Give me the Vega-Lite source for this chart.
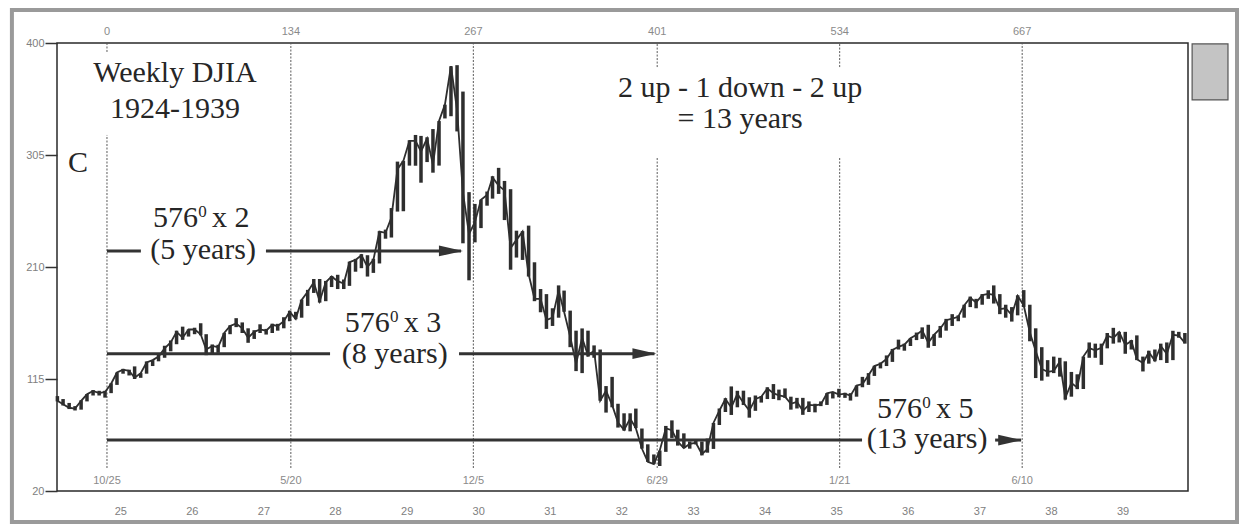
{
  "$schema": "https://vega.github.io/schema/vega-lite/v6.json",
  "width": 1131,
  "height": 448,
  "autosize": "none",
  "padding": {"left": 57, "top": 43, "right": 55, "bottom": 37},
  "background": "white",
  "config": {"view": {"stroke": "#2a2a2a", "strokeWidth": 1.5}, "font": "Liberation Sans"},
  "datasets": {
    "djia": [
      {"d":"1924-02-15","h":100.5,"l":96,"v":96.6},
      {"d":"1924-03-15","h":98,"l":92.5,"v":93.5},
      {"d":"1924-04-15","h":94.7,"l":89.5,"v":90.6},
      {"d":"1924-05-15","h":92,"l":88.3,"v":89.9},
      {"d":"1924-06-15","h":97,"l":89,"v":96.4},
      {"d":"1924-07-15","h":102.3,"l":96,"v":102},
      {"d":"1924-08-15","h":105.6,"l":101,"v":104.9},
      {"d":"1924-09-15","h":105,"l":101,"v":103},
      {"d":"1924-10-15","h":105,"l":99.2,"v":104},
      {"d":"1924-11-15","h":111.4,"l":103,"v":111},
      {"d":"1924-12-15","h":120.5,"l":110,"v":120.5},
      {"d":"1925-01-15","h":123.6,"l":119.5,"v":123},
      {"d":"1925-02-15","h":122.9,"l":118,"v":122},
      {"d":"1925-03-15","h":125.7,"l":115,"v":116},
      {"d":"1925-04-15","h":120,"l":116,"v":120},
      {"d":"1925-05-15","h":129.9,"l":119.5,"v":129},
      {"d":"1925-06-15","h":131,"l":126,"v":131},
      {"d":"1925-07-15","h":136.5,"l":130,"v":134},
      {"d":"1925-08-15","h":143.2,"l":133,"v":141},
      {"d":"1925-09-15","h":147.7,"l":138.5,"v":146},
      {"d":"1925-10-15","h":156,"l":144.5,"v":155},
      {"d":"1925-11-15","h":159.4,"l":148.2,"v":150},
      {"d":"1925-12-15","h":157,"l":151,"v":157},
      {"d":"1926-01-15","h":158.5,"l":153,"v":157},
      {"d":"1926-02-15","h":162.3,"l":152,"v":153},
      {"d":"1926-03-15","h":153,"l":135.2,"v":140},
      {"d":"1926-04-15","h":144.3,"l":136.2,"v":143},
      {"d":"1926-05-15","h":144,"l":137.2,"v":142},
      {"d":"1926-06-15","h":154.1,"l":142,"v":154},
      {"d":"1926-07-15","h":160.6,"l":153,"v":160},
      {"d":"1926-08-15","h":166.6,"l":159,"v":162},
      {"d":"1926-09-15","h":163,"l":154,"v":158},
      {"d":"1926-10-15","h":158,"l":145.7,"v":150},
      {"d":"1926-11-15","h":156.4,"l":149,"v":155},
      {"d":"1926-12-15","h":161.4,"l":154,"v":157},
      {"d":"1927-01-15","h":157.5,"l":152.7,"v":156},
      {"d":"1927-02-15","h":161.9,"l":154,"v":161},
      {"d":"1927-03-15","h":161.8,"l":156,"v":160},
      {"d":"1927-04-15","h":167.4,"l":158,"v":164},
      {"d":"1927-05-15","h":172.9,"l":164,"v":172},
      {"d":"1927-06-15","h":172,"l":165.7,"v":166},
      {"d":"1927-07-15","h":182.3,"l":167,"v":182},
      {"d":"1927-08-15","h":190.6,"l":177,"v":189},
      {"d":"1927-09-15","h":199.8,"l":188,"v":197},
      {"d":"1927-10-15","h":199.8,"l":179.8,"v":181},
      {"d":"1927-11-15","h":198.2,"l":181,"v":197},
      {"d":"1927-12-15","h":202.4,"l":193,"v":202},
      {"d":"1928-01-15","h":203.4,"l":191.3,"v":198},
      {"d":"1928-02-15","h":199.4,"l":191.3,"v":196},
      {"d":"1928-03-15","h":214.5,"l":194,"v":214},
      {"d":"1928-04-15","h":216.9,"l":206,"v":216},
      {"d":"1928-05-15","h":220.9,"l":209,"v":220},
      {"d":"1928-06-15","h":220,"l":201.9,"v":210},
      {"d":"1928-07-15","h":217,"l":205,"v":216},
      {"d":"1928-08-15","h":240.4,"l":213,"v":240},
      {"d":"1928-09-15","h":241.7,"l":234,"v":239},
      {"d":"1928-10-15","h":260,"l":235,"v":252},
      {"d":"1928-11-15","h":299.4,"l":257,"v":293},
      {"d":"1928-12-15","h":300,"l":257.3,"v":300},
      {"d":"1929-01-15","h":317.5,"l":296,"v":317},
      {"d":"1929-02-15","h":322,"l":295.9,"v":317},
      {"d":"1929-03-15","h":321.2,"l":281.5,"v":308},
      {"d":"1929-04-15","h":320,"l":299,"v":319},
      {"d":"1929-05-15","h":327,"l":290,"v":297},
      {"d":"1929-06-15","h":333.8,"l":296,"v":333.8},
      {"d":"1929-07-15","h":347.7,"l":336,"v":347.7},
      {"d":"1929-08-15","h":380.3,"l":337.9,"v":380.3},
      {"d":"1929-09-15","h":381.2,"l":325,"v":343},
      {"d":"1929-10-15","h":358.8,"l":230.1,"v":273},
      {"d":"1929-11-15","h":273.5,"l":198.7,"v":238},
      {"d":"1929-12-15","h":263.5,"l":230.9,"v":248},
      {"d":"1930-01-15","h":267.1,"l":243,"v":267},
      {"d":"1930-02-15","h":274,"l":262,"v":271},
      {"d":"1930-03-15","h":287,"l":268,"v":286},
      {"d":"1930-04-15","h":294.1,"l":272,"v":279},
      {"d":"1930-05-15","h":283,"l":249.8,"v":275},
      {"d":"1930-06-15","h":276,"l":207.7,"v":226},
      {"d":"1930-07-15","h":240.8,"l":218,"v":233},
      {"d":"1930-08-15","h":240.4,"l":216,"v":240},
      {"d":"1930-09-15","h":245.1,"l":201.9,"v":204},
      {"d":"1930-10-15","h":214,"l":181,"v":183},
      {"d":"1930-11-15","h":191.3,"l":171.6,"v":183},
      {"d":"1930-12-15","h":187,"l":157.5,"v":165},
      {"d":"1931-01-15","h":175,"l":160,"v":167},
      {"d":"1931-02-15","h":194.4,"l":167,"v":190},
      {"d":"1931-03-15","h":190,"l":172,"v":172},
      {"d":"1931-04-15","h":173,"l":142,"v":151},
      {"d":"1931-05-15","h":156,"l":121.7,"v":128},
      {"d":"1931-06-15","h":157.9,"l":120,"v":150},
      {"d":"1931-07-15","h":156,"l":134,"v":135},
      {"d":"1931-08-15","h":143.5,"l":133,"v":139},
      {"d":"1931-09-15","h":140,"l":96.6,"v":96.6},
      {"d":"1931-10-15","h":109,"l":86.5,"v":105},
      {"d":"1931-11-15","h":116.8,"l":91,"v":93},
      {"d":"1931-12-15","h":94,"l":73.8,"v":78},
      {"d":"1932-01-15","h":85.9,"l":71.2,"v":71.9},
      {"d":"1932-02-15","h":85.9,"l":70.6,"v":81.4},
      {"d":"1932-03-15","h":89.9,"l":73.3,"v":73.3},
      {"d":"1932-04-15","h":73,"l":55.9,"v":56},
      {"d":"1932-05-15","h":59.6,"l":44.7,"v":44.7},
      {"d":"1932-06-15","h":51,"l":42.8,"v":42.8},
      {"d":"1932-07-15","h":54.3,"l":41.2,"v":54.3},
      {"d":"1932-08-15","h":75.2,"l":53.2,"v":73.2},
      {"d":"1932-09-15","h":79.9,"l":65,"v":71.6},
      {"d":"1932-10-15","h":72,"l":58.5,"v":61.9},
      {"d":"1932-11-15","h":68.9,"l":56.4,"v":56.4},
      {"d":"1932-12-15","h":62,"l":55.9,"v":59.9},
      {"d":"1933-01-15","h":64,"l":59.5,"v":60.9},
      {"d":"1933-02-15","h":62,"l":50.2,"v":51.4},
      {"d":"1933-03-15","h":64.5,"l":52.5,"v":55.4},
      {"d":"1933-04-15","h":77.7,"l":55.7,"v":77.7},
      {"d":"1933-05-15","h":90,"l":76,"v":88.1},
      {"d":"1933-06-15","h":98.7,"l":87,"v":98.1},
      {"d":"1933-07-15","h":108.7,"l":84.5,"v":90.8},
      {"d":"1933-08-15","h":105,"l":91,"v":102.4},
      {"d":"1933-09-15","h":105.1,"l":92.9,"v":94.8},
      {"d":"1933-10-15","h":99.5,"l":82.2,"v":88.2},
      {"d":"1933-11-15","h":101,"l":88,"v":98.1},
      {"d":"1933-12-15","h":100.6,"l":95,"v":99.9},
      {"d":"1934-01-15","h":108,"l":98,"v":107},
      {"d":"1934-02-15","h":110.7,"l":98,"v":103},
      {"d":"1934-03-15","h":106,"l":97,"v":101},
      {"d":"1934-04-15","h":107,"l":99,"v":100},
      {"d":"1934-05-15","h":100,"l":89,"v":94},
      {"d":"1934-06-15","h":99,"l":90,"v":95.6},
      {"d":"1934-07-15","h":99,"l":84.6,"v":88},
      {"d":"1934-08-15","h":96,"l":87,"v":93},
      {"d":"1934-09-15","h":94,"l":86.7,"v":92.6},
      {"d":"1934-10-15","h":96,"l":92,"v":93.4},
      {"d":"1934-11-15","h":103,"l":93,"v":102.9},
      {"d":"1934-12-15","h":104,"l":98.5,"v":104},
      {"d":"1935-01-15","h":106.7,"l":99.5,"v":101.7},
      {"d":"1935-02-15","h":103.3,"l":99,"v":102.6},
      {"d":"1935-03-15","h":103,"l":96.7,"v":100.8},
      {"d":"1935-04-15","h":109.5,"l":100,"v":109.5},
      {"d":"1935-05-15","h":116.8,"l":108,"v":110.6},
      {"d":"1935-06-15","h":120,"l":110,"v":118.2},
      {"d":"1935-07-15","h":126.2,"l":117.6,"v":126},
      {"d":"1935-08-15","h":129,"l":124,"v":127.9},
      {"d":"1935-09-15","h":135,"l":126,"v":131.9},
      {"d":"1935-10-15","h":140.5,"l":129.5,"v":139.7},
      {"d":"1935-11-15","h":148.4,"l":140,"v":142.3},
      {"d":"1935-12-15","h":145,"l":139,"v":144.1},
      {"d":"1936-01-15","h":149.5,"l":143,"v":149.5},
      {"d":"1936-02-15","h":154.4,"l":148,"v":152.5},
      {"d":"1936-03-15","h":158.8,"l":149,"v":156.3},
      {"d":"1936-04-15","h":161,"l":141.5,"v":145.7},
      {"d":"1936-05-15","h":153,"l":143,"v":152.6},
      {"d":"1936-06-15","h":160,"l":150,"v":157.7},
      {"d":"1936-07-15","h":166,"l":156,"v":164.9},
      {"d":"1936-08-15","h":170,"l":160,"v":166.3},
      {"d":"1936-09-15","h":169,"l":164,"v":167.8},
      {"d":"1936-10-15","h":178,"l":167,"v":177.4},
      {"d":"1936-11-15","h":184.9,"l":176,"v":183.9},
      {"d":"1936-12-15","h":183,"l":175,"v":179.9},
      {"d":"1937-01-15","h":187,"l":178,"v":186.2},
      {"d":"1937-02-15","h":190.3,"l":183,"v":187.2},
      {"d":"1937-03-15","h":194.4,"l":179,"v":186.4},
      {"d":"1937-04-15","h":187,"l":170,"v":174.3},
      {"d":"1937-05-15","h":178,"l":167,"v":175},
      {"d":"1937-06-15","h":176,"l":163.7,"v":169.3},
      {"d":"1937-07-15","h":186,"l":169,"v":185.5},
      {"d":"1937-08-15","h":190.4,"l":176,"v":177.4},
      {"d":"1937-09-15","h":178,"l":147,"v":154.6},
      {"d":"1937-10-15","h":158,"l":115.8,"v":138.8},
      {"d":"1937-11-15","h":142,"l":113.6,"v":123.5},
      {"d":"1937-12-15","h":131,"l":117,"v":121},
      {"d":"1938-01-15","h":134,"l":120,"v":121.9},
      {"d":"1938-02-15","h":133,"l":117,"v":129.6},
      {"d":"1938-03-15","h":130,"l":97.5,"v":99},
      {"d":"1938-04-15","h":121,"l":100,"v":111.7},
      {"d":"1938-05-15","h":119,"l":106.4,"v":107.7},
      {"d":"1938-06-15","h":134,"l":106.5,"v":134},
      {"d":"1938-07-15","h":146,"l":133,"v":141.2},
      {"d":"1938-08-15","h":145,"l":133,"v":139.3},
      {"d":"1938-09-15","h":145,"l":127,"v":141.5},
      {"d":"1938-10-15","h":154,"l":141,"v":151.7},
      {"d":"1938-11-15","h":158.4,"l":145,"v":149.8},
      {"d":"1938-12-15","h":155,"l":146,"v":154.8},
      {"d":"1939-01-15","h":155,"l":136.4,"v":143.8},
      {"d":"1939-02-15","h":148,"l":140,"v":147.2},
      {"d":"1939-03-15","h":152,"l":131,"v":131.8},
      {"d":"1939-04-15","h":134,"l":121.4,"v":128.5},
      {"d":"1939-05-15","h":139,"l":128,"v":137.7},
      {"d":"1939-06-15","h":140,"l":130,"v":130.6},
      {"d":"1939-07-15","h":145,"l":131,"v":143},
      {"d":"1939-08-15","h":146,"l":128.6,"v":136.4},
      {"d":"1939-09-15","h":155.9,"l":131,"v":152.5},
      {"d":"1939-10-15","h":155,"l":150,"v":151.9},
      {"d":"1939-11-15","h":154,"l":145,"v":145.7}
    ],
    "vsegs": [
      {"d":"1924-10-25","v":39.5,"b":322},
      {"d":"1924-10-25","v":392.4,"b":400},
      {"d":"1927-05-21","v":39.5,"b":400},
      {"d":"1929-12-07","v":39.5,"b":400},
      {"d":"1932-07-02","v":39.5,"b":302.5},
      {"d":"1932-07-02","v":379.6,"b":400},
      {"d":"1935-01-19","v":39.5,"b":302.5},
      {"d":"1935-01-19","v":379.6,"b":400},
      {"d":"1937-08-07","v":39.5,"b":400}
    ],
    "marks": [
      {"d":"1924-10-25","v":409.3,"t":"0"},
      {"d":"1927-05-21","v":409.3,"t":"134"},
      {"d":"1929-12-07","v":409.3,"t":"267"},
      {"d":"1932-07-02","v":409.3,"t":"401"},
      {"d":"1935-01-19","v":409.3,"t":"534"},
      {"d":"1937-08-07","v":409.3,"t":"667"},
      {"d":"1924-10-25","v":28.5,"t":"10/25"},
      {"d":"1927-05-21","v":28.5,"t":"5/20"},
      {"d":"1929-12-07","v":28.5,"t":"12/5"},
      {"d":"1932-07-02","v":28.5,"t":"6/29"},
      {"d":"1935-01-19","v":28.5,"t":"1/21"},
      {"d":"1937-08-07","v":28.5,"t":"6/10"}
    ],
    "arrows": [
      {"d":"1924-10-25","d2":"1925-04-16","v":223.6},
      {"d":"1927-01-14","d2":"1929-10-05","v":223.6},
      {"d":"1924-10-25","d2":"1927-12-07","v":136.5},
      {"d":"1929-09-25","d2":"1932-06-18","v":136.5},
      {"d":"1924-10-25","d2":"1935-05-13","v":63.2},
      {"d":"1937-03-22","d2":"1937-08-01","v":63.2}
    ],
    "heads": [
      {"d":"1929-10-15","v":223.6},
      {"d":"1932-06-28","v":136.5},
      {"d":"1937-08-07","v":63.2}
    ],
    "notes": [
      {"d":"1925-10-07","v":366.9,"t":"Weekly DJIA","p":"full"},
      {"d":"1925-10-07","v":336.4,"t":"1924-1939","p":"full"},
      {"d":"1924-05-30","v":290.6,"t":"C","p":"full"},
      {"d":"1933-08-29","v":354.2,"t":"2 up - 1 down - 2 up","p":"full"},
      {"d":"1933-08-29","v":327.9,"t":"= 13 years","p":"full"},
      {"d":"1926-02-27","v":243.9,"t":"576","p":"base"},
      {"d":"1926-02-27","v":243.9,"t":"0","p":"sup"},
      {"d":"1926-02-27","v":243.9,"t":"x 2","p":"tail"},
      {"d":"1926-02-27","v":216.5,"t":"(5 years)","p":"full"},
      {"d":"1928-11-01","v":155,"t":"576","p":"base"},
      {"d":"1928-11-01","v":155,"t":"0","p":"sup"},
      {"d":"1928-11-01","v":155,"t":"x 3","p":"tail"},
      {"d":"1928-11-01","v":128.6,"t":"(8 years)","p":"full"},
      {"d":"1936-04-09","v":81.9,"t":"576","p":"base"},
      {"d":"1936-04-09","v":81.9,"t":"0","p":"sup"},
      {"d":"1936-04-09","v":81.9,"t":"x 5","p":"tail"},
      {"d":"1936-04-09","v":56.5,"t":"(13 years)","p":"full"}
    ],
    "boxes": [
      {"d":"1939-12-22","d2":"1940-06-22","v":351.7,"b":399.2}
    ],
    "frame": [
      {"d":"1923-06-28","d2":"1940-08-07","v":-6.3,"b":428}
    ]
  },
  "encoding": {
    "x": {
      "field": "d",
      "type": "temporal",
      "scale": {"type": "utc", "domain": [{"year":1924,"month":2,"date":13,"utc":true},{"year":1939,"month":12,"date":1,"utc":true}]},
      "axis": {
        "title": null,
        "values": [
          {"year":1925,"month":1,"date":1,"utc":true},{"year":1926,"month":1,"date":1,"utc":true},{"year":1927,"month":1,"date":1,"utc":true},
          {"year":1928,"month":1,"date":1,"utc":true},{"year":1929,"month":1,"date":1,"utc":true},{"year":1930,"month":1,"date":1,"utc":true},
          {"year":1931,"month":1,"date":1,"utc":true},{"year":1932,"month":1,"date":1,"utc":true},{"year":1933,"month":1,"date":1,"utc":true},
          {"year":1934,"month":1,"date":1,"utc":true},{"year":1935,"month":1,"date":1,"utc":true},{"year":1936,"month":1,"date":1,"utc":true},
          {"year":1937,"month":1,"date":1,"utc":true},{"year":1938,"month":1,"date":1,"utc":true},{"year":1939,"month":1,"date":1,"utc":true}
        ],
        "labelExpr": "utcFormat(datum.value, '%y')",
        "ticks": false,
        "domain": false,
        "grid": false,
        "labelPadding": 14,
        "labelFlush": false,
        "labelColor": "#808080",
        "labelFontSize": 11,
        "labelFont": "Liberation Sans"
      }
    },
    "y": {
      "field": "v",
      "type": "quantitative",
      "scale": {"domain": [20, 400], "nice": false, "zero": false},
      "axis": {
        "title": null,
        "values": [20, 115, 210, 305, 400],
        "tickSize": 12,
        "tickColor": "#333333",
        "tickWidth": 1.5,
        "domain": false,
        "grid": false,
        "labelPadding": 1,
        "labelColor": "#808080",
        "labelFontSize": 11,
        "labelFont": "Liberation Sans"
      }
    }
  },
  "layer": [
    {
      "data": {"name": "frame"},
      "mark": {"type": "rect", "fill": null, "fillOpacity": 0, "stroke": "#9a9a9a", "strokeWidth": 4},
      "encoding": {"x2": {"field": "d2"}, "y2": {"field": "b"}}
    },
    {
      "data": {"name": "boxes"},
      "mark": {"type": "rect", "fill": "#c4c4c4", "stroke": "#555", "strokeWidth": 1.2},
      "encoding": {"x2": {"field": "d2"}, "y2": {"field": "b"}}
    },
    {
      "data": {"name": "vsegs"},
      "mark": {"type": "rule", "color": "#5a5a5a", "strokeWidth": 1, "strokeDash": [2, 1.5]},
      "encoding": {"y2": {"field": "b"}}
    },
    {
      "data": {"name": "marks"},
      "mark": {"type": "text", "font": "Liberation Sans", "fontSize": 11, "color": "#8a8a8a", "align": "center", "baseline": "middle"},
      "encoding": {"text": {"field": "t"}}
    },
    {
      "data": {"name": "djia"},
      "mark": {"type": "rule", "color": "#2e2e2e", "strokeWidth": 3.5},
      "encoding": {
        "y": {
          "field": "l",
          "type": "quantitative",
          "scale": {"domain": [20, 400], "nice": false, "zero": false},
          "axis": {
            "title": null,
            "values": [20, 115, 210, 305, 400],
            "tickSize": 12,
            "tickColor": "#333333",
            "tickWidth": 1.5,
            "domain": false,
            "grid": false,
            "labelPadding": 1,
            "labelColor": "#808080",
            "labelFontSize": 11,
            "labelFont": "Liberation Sans"
          }
        },
        "y2": {"field": "h"}
      }
    },
    {
      "data": {"name": "djia"},
      "mark": {"type": "line", "color": "#2e2e2e", "strokeWidth": 1.8}
    },
    {
      "data": {"name": "arrows"},
      "mark": {"type": "rule", "color": "#333333", "strokeWidth": 3},
      "encoding": {"x2": {"field": "d2"}}
    },
    {
      "data": {"name": "heads"},
      "mark": {"type": "point", "shape": "M 0 0 L -2 -0.45 L -2 0.45 Z", "size": 576, "filled": true, "color": "#333333", "opacity": 1, "strokeWidth": 0}
    },
    {
      "data": {"name": "notes"},
      "transform": [{"filter": "datum.p == 'full'"}],
      "mark": {"type": "text", "font": "Liberation Serif", "fontSize": 30, "color": "#262626", "align": "center", "baseline": "alphabetic"},
      "encoding": {"text": {"field": "t"}}
    },
    {
      "data": {"name": "notes"},
      "transform": [{"filter": "datum.p == 'base'"}],
      "mark": {"type": "text", "font": "Liberation Serif", "fontSize": 30, "color": "#262626", "align": "right", "baseline": "alphabetic", "dx": -5},
      "encoding": {"text": {"field": "t"}}
    },
    {
      "data": {"name": "notes"},
      "transform": [{"filter": "datum.p == 'sup'"}],
      "mark": {"type": "text", "font": "Liberation Serif", "fontSize": 17, "color": "#262626", "align": "center", "baseline": "alphabetic", "dx": -0.5, "dy": -10},
      "encoding": {"text": {"field": "t"}}
    },
    {
      "data": {"name": "notes"},
      "transform": [{"filter": "datum.p == 'tail'"}],
      "mark": {"type": "text", "font": "Liberation Serif", "fontSize": 30, "color": "#262626", "align": "left", "baseline": "alphabetic", "dx": 9},
      "encoding": {"text": {"field": "t"}}
    }
  ]
}
